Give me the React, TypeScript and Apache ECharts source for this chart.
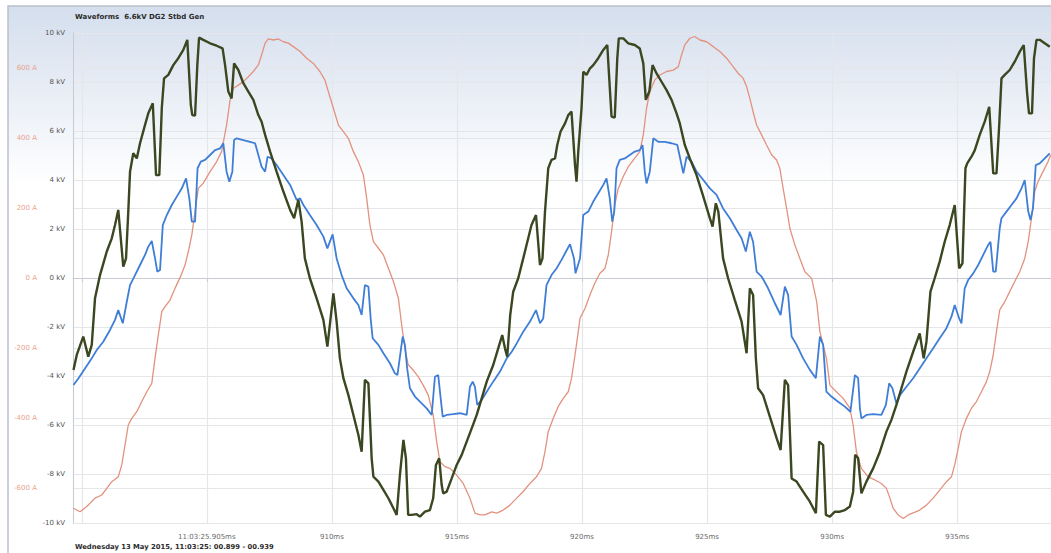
import React, { useEffect, useRef } from "react";
import * as echarts from "echarts";

const titleText = "Waveforms  6.6kV DG2 Stbd Gen";
const footerText = "Wednesday 13 May 2015, 11:03:25: 00.899 - 00.939";

// [time ms, kV]
const voltageDark: [number, number][] = [
  [899.67,-3.76],[899.80,-3.14],[900.06,-2.39],[900.26,-3.21],[900.40,-2.73],[900.53,-0.83],[900.73,0.12],[901.00,1.08],[901.20,1.62],[901.33,2.16],[901.46,2.78],[901.66,0.46],[901.77,0.80],[901.86,2.71],[901.93,4.34],[902.06,5.09],[902.20,4.88],[902.33,5.50],[902.53,6.25],[902.66,6.72],[902.84,7.13],[902.97,4.20],[903.10,4.20],[903.20,6.93],[903.29,8.15],[903.46,8.29],[903.66,8.69],[903.86,8.97],[904.06,9.31],[904.22,9.72],[904.36,7.06],[904.42,6.65],[904.53,6.63],[904.62,8.69],[904.69,9.81],[904.86,9.72],[905.13,9.58],[905.39,9.48],[905.63,9.37],[905.73,8.69],[905.86,7.61],[905.99,7.33],[906.09,8.76],[906.26,8.49],[906.46,7.95],[906.66,7.61],[906.86,7.27],[907.06,6.65],[907.19,6.38],[907.33,5.84],[907.53,5.16],[907.79,4.34],[908.06,3.53],[908.33,2.78],[908.49,2.44],[908.66,3.19],[908.79,2.30],[908.92,0.80],[909.12,-0.01],[909.39,-0.83],[909.66,-1.71],[909.82,-2.80],
  [910.06,-0.63],[910.19,-1.78],[910.32,-3.28],[910.46,-4.09],[910.66,-4.78],[910.86,-5.59],[911.06,-6.41],[911.19,-7.09],[911.32,-4.16],[911.46,-4.30],[911.59,-7.36],[911.66,-8.11],[911.86,-8.31],[912.06,-8.65],[912.26,-8.99],[912.46,-9.40],[912.59,-9.67],[912.72,-8.04],[912.86,-6.61],[912.96,-7.36],[913.05,-9.67],[913.19,-9.67],[913.39,-9.64],[913.52,-9.74],[913.72,-9.54],[913.92,-9.47],[914.05,-8.99],[914.16,-7.63],[914.29,-7.36],[914.39,-8.45],[914.45,-8.79],[914.59,-8.72],[914.79,-8.18],[914.99,-7.63],[915.19,-7.22],[915.39,-6.68],[915.59,-6.14],[915.79,-5.59],[915.99,-4.91],[916.19,-4.23],[916.45,-3.55],[916.65,-2.87],[916.81,-2.33],[916.92,-2.87],[917.01,-3.21],[917.13,-1.51],[917.25,-0.56],[917.45,-0.01],[917.65,0.80],[917.85,1.62],[917.98,2.16],[918.16,2.57],[918.32,0.53],[918.42,0.80],[918.52,2.71],[918.65,4.48],[918.78,4.82],[918.92,4.88],[919.01,5.43],[919.14,5.97],[919.32,6.31],[919.45,6.65],[919.58,6.79],[919.72,4.61],[919.78,3.93],[919.85,5.16],[919.98,6.93],
  [920.05,8.42],[920.18,8.29],[920.32,8.56],[920.45,8.69],[920.65,8.97],[920.85,9.31],[921.01,9.51],[921.12,7.61],[921.18,6.59],[921.31,6.55],[921.41,8.97],[921.47,9.78],[921.65,9.78],[921.85,9.58],[922.11,9.51],[922.31,9.37],[922.45,8.76],[922.55,7.27],[922.69,7.61],[922.82,8.69],[922.98,8.35],[923.18,8.01],[923.38,7.67],[923.58,7.27],[923.78,6.72],[923.91,6.31],[924.11,5.43],[924.31,4.88],[924.58,4.20],[924.85,3.32],[925.11,2.44],[925.22,2.10],[925.35,3.05],[925.45,2.71],[925.64,0.80],[925.84,-0.01],[926.11,-0.90],[926.38,-1.78],[926.58,-3.07],[926.71,-0.42],[926.84,-0.69],[926.95,-3.28],[927.04,-4.50],[927.24,-4.78],[927.51,-5.66],[927.78,-6.54],[927.94,-7.02],[928.11,-4.16],[928.24,-4.37],[928.38,-8.18],[928.58,-8.31],[928.84,-8.72],[929.11,-9.13],[929.35,-9.60],[929.48,-6.68],[929.64,-6.82],[929.75,-9.67],[929.91,-9.74],
  [930.11,-9.54],[930.31,-9.54],[930.51,-9.47],[930.71,-9.33],[930.84,-8.72],[930.92,-7.22],[931.04,-7.36],[931.17,-8.79],[931.37,-8.31],[931.64,-7.77],[931.91,-7.09],[932.17,-6.27],[932.37,-5.79],[932.57,-5.18],[932.77,-4.50],[932.97,-3.82],[933.24,-3.01],[933.50,-2.26],[933.66,-3.28],[933.77,-2.60],[933.93,-0.56],[934.10,-0.01],[934.30,0.67],[934.50,1.48],[934.70,2.16],[934.90,2.98],[935.08,0.39],[935.21,0.60],[935.33,4.48],[935.40,4.68],[935.57,4.95],[935.70,5.21],[935.90,5.84],[936.10,6.38],[936.28,6.99],[936.44,4.27],[936.57,4.27],[936.68,6.25],[936.77,8.15],[936.90,8.29],[937.10,8.49],[937.30,8.83],[937.50,9.24],[937.66,9.51],[937.79,7.61],[937.87,6.72],[937.99,6.72],[938.07,8.97],[938.17,9.72],[938.30,9.72],[938.50,9.58],[938.70,9.44],
];

// [time ms, kV]
const voltageBlue: [number, number][] = [
  [899.67,-4.37],[899.87,-4.09],[900.13,-3.69],[900.40,-3.28],[900.60,-2.94],[900.86,-2.60],[901.13,-2.12],[901.33,-1.71],[901.46,-1.31],[901.64,-1.85],[901.80,-0.97],[901.93,-0.29],[902.13,0.12],[902.33,0.53],[902.53,0.94],[902.66,1.28],[902.80,1.51],[902.93,0.80],[903.02,0.26],[903.13,0.33],[903.24,2.16],[903.40,2.57],[903.60,2.98],[903.80,3.32],[904.00,3.66],[904.17,4.07],[904.30,3.25],[904.40,2.30],[904.53,2.30],[904.63,4.48],[904.76,4.75],[904.93,4.82],[905.13,5.02],[905.33,5.22],[905.53,5.29],[905.66,5.50],[905.79,4.34],[905.90,3.93],[906.02,4.34],[906.09,5.63],[906.19,5.70],[906.46,5.63],[906.73,5.56],[906.93,5.50],[907.06,5.02],[907.19,4.54],[907.33,4.34],[907.43,4.95],[907.59,4.88],[907.79,4.61],[908.06,4.20],[908.33,3.80],[908.59,3.19],[908.73,3.25],[908.86,2.98],[909.12,2.57],[909.39,2.16],[909.66,1.69],[909.82,1.21],
  [910.03,1.78],[910.19,0.80],[910.39,0.12],[910.59,-0.42],[910.86,-0.83],[911.06,-1.10],[911.19,-1.51],[911.32,-0.29],[911.46,-0.35],[911.55,-1.65],[911.63,-2.46],[911.86,-2.73],[912.06,-3.07],[912.32,-3.48],[912.52,-3.89],[912.62,-3.96],[912.83,-2.39],[912.92,-2.73],[913.01,-3.69],[913.12,-4.50],[913.32,-4.84],[913.52,-5.05],[913.79,-5.32],[913.99,-5.59],[914.12,-4.03],[914.25,-3.96],[914.35,-4.91],[914.43,-5.66],[914.59,-5.59],[914.85,-5.56],[915.12,-5.52],[915.39,-5.59],[915.52,-4.44],[915.63,-4.23],[915.72,-4.44],[915.81,-5.18],[915.99,-4.98],[916.19,-4.64],[916.45,-4.23],[916.72,-3.82],[916.99,-3.28],[917.19,-3.01],[917.39,-2.67],[917.65,-2.19],[917.92,-1.78],[918.16,-1.31],[918.32,-1.85],[918.45,-1.65],[918.58,-0.29],[918.78,0.12],[918.98,0.39],[919.18,0.74],[919.36,1.08],[919.52,1.38],[919.68,0.80],[919.74,0.19],[919.92,0.80],
  [920.05,2.57],[920.25,2.71],[920.45,3.12],[920.65,3.46],[920.85,3.80],[920.98,4.07],[921.11,3.25],[921.21,2.30],[921.29,2.71],[921.38,4.48],[921.51,4.82],[921.71,4.88],[921.91,5.02],[922.11,5.16],[922.31,5.22],[922.42,5.43],[922.51,4.34],[922.58,3.86],[922.71,4.34],[922.85,5.70],[923.05,5.56],[923.31,5.56],[923.58,5.50],[923.81,5.43],[923.91,4.95],[924.05,4.27],[924.18,4.95],[924.38,4.75],[924.58,4.34],[924.85,4.00],[925.11,3.66],[925.38,3.39],[925.64,2.84],[925.91,2.44],[926.18,1.96],[926.38,1.62],[926.55,1.08],[926.71,1.89],[926.84,1.48],[926.98,0.26],[927.18,0.06],[927.44,-0.42],[927.71,-1.03],[927.94,-1.51],[928.11,-0.35],[928.24,-0.69],[928.38,-2.39],[928.58,-2.73],[928.84,-3.28],[929.11,-3.75],[929.35,-4.09],[929.51,-2.39],[929.64,-2.73],[929.77,-4.64],[929.97,-4.84],
  [930.24,-5.05],[930.51,-5.25],[930.73,-5.46],[930.91,-3.96],[931.04,-4.09],[931.11,-5.32],[931.17,-5.73],[931.37,-5.59],[931.64,-5.56],[931.97,-5.59],[932.15,-5.18],[932.28,-4.30],[932.41,-4.50],[932.57,-5.12],[932.71,-4.78],[932.97,-4.44],[933.24,-4.09],[933.50,-3.69],[933.77,-3.28],[934.04,-2.87],[934.30,-2.46],[934.57,-2.05],[934.77,-1.58],[934.90,-1.10],[935.08,-1.65],[935.17,-1.85],[935.30,-0.42],[935.44,-0.08],[935.64,0.19],[935.84,0.53],[936.04,0.94],[936.24,1.35],[936.33,1.48],[936.44,0.26],[936.54,0.26],[936.70,2.03],[936.77,2.44],[936.97,2.71],[937.17,2.98],[937.37,3.25],[937.57,3.66],[937.70,4.00],[937.84,2.71],[937.93,2.37],[938.03,2.84],[938.14,4.61],[938.30,4.68],[938.50,4.88],[938.70,5.09],
];

// [time ms, A]
const currentAmps: [number, number][] = [
  [899.67,-658],[899.93,-668],[900.20,-653],[900.53,-629],[900.80,-620],[901.00,-601],[901.20,-582],[901.46,-568],[901.60,-534],[901.73,-477],[901.86,-420],[902.00,-401],[902.20,-382],[902.40,-353],[902.60,-325],[902.80,-301],[902.93,-229],[903.06,-163],[903.20,-96],[903.33,-82],[903.53,-63],[903.73,-29],[903.93,1],[904.13,37],[904.26,75],[904.40,123],[904.53,190],[904.66,256],[904.86,271],[905.13,304],[905.39,332],[905.59,361],[905.79,437],[905.93,509],[906.06,542],[906.26,551],[906.46,561],[906.66,575],[906.86,590],[907.06,609],[907.19,637],[907.33,671],[907.46,683],[907.66,680],[907.86,683],[908.06,675],[908.26,671],[908.46,661],[908.73,647],[908.99,628],[909.26,613],[909.52,590],[909.72,566],[909.86,532],
  [910.06,485],[910.26,437],[910.46,418],[910.66,399],[910.86,361],[911.06,332],[911.26,294],[911.39,228],[911.52,152],[911.66,104],[911.86,85],[912.06,66],[912.26,28],[912.46,-10],[912.66,-58],[912.79,-134],[912.92,-201],[913.05,-248],[913.25,-263],[913.45,-282],[913.65,-306],[913.85,-334],[914.05,-391],[914.19,-468],[914.32,-525],[914.52,-539],[914.72,-544],[914.99,-563],[915.25,-587],[915.52,-629],[915.72,-672],[915.92,-677],[916.12,-677],[916.39,-668],[916.59,-672],[916.85,-663],[917.12,-649],[917.39,-629],[917.65,-610],[917.92,-587],[918.18,-568],[918.38,-544],[918.52,-496],[918.65,-439],[918.85,-401],[919.05,-367],[919.25,-344],[919.45,-325],[919.58,-287],[919.72,-220],[919.85,-153],[919.92,-115],
  [920.12,-87],[920.32,-48],[920.51,-15],[920.71,13],[920.92,28],[921.05,66],[921.18,132],[921.31,209],[921.45,256],[921.65,290],[921.85,318],[922.05,337],[922.31,361],[922.45,409],[922.58,485],[922.71,532],[922.91,566],[923.11,580],[923.38,590],[923.65,594],[923.85,604],[923.98,637],[924.11,666],[924.31,685],[924.51,690],[924.71,680],[924.98,675],[925.25,661],[925.51,647],[925.78,628],[926.04,604],[926.24,585],[926.44,571],[926.58,547],[926.71,513],[926.84,475],[926.98,437],[927.18,409],[927.38,380],[927.58,352],[927.78,337],[927.91,313],[928.04,256],[928.18,199],[928.31,142],[928.51,94],[928.71,56],[928.91,18],[929.18,-1],[929.38,-67],[929.51,-153],[929.64,-191],[929.77,-229],[929.91,-306],
  [930.17,-325],[930.44,-344],[930.71,-372],[930.84,-420],[930.97,-496],[931.17,-544],[931.44,-568],[931.71,-577],[931.97,-587],[932.17,-601],[932.31,-629],[932.44,-658],[932.64,-677],[932.84,-687],[933.04,-677],[933.31,-669],[933.50,-663],[933.77,-649],[934.04,-629],[934.30,-606],[934.57,-582],[934.77,-568],[934.90,-534],[935.04,-487],[935.17,-439],[935.37,-401],[935.57,-372],[935.77,-353],[935.97,-325],[936.17,-296],[936.30,-268],[936.44,-220],[936.57,-153],[936.70,-91],[936.90,-68],[937.10,-39],[937.30,-10],[937.50,18],[937.70,56],[937.84,104],[937.97,171],[938.10,247],[938.23,275],[938.43,304],[938.63,332],[938.74,352],
];

const FONT = '"DejaVu Sans", Verdana, sans-serif';

export default function App() {
  const ref = useRef<HTMLDivElement>(null);

  useEffect(() => {
    if (!ref.current) return;
    const chart = echarts.init(ref.current, undefined, { renderer: "svg" });
    const gridLine = { show: true, lineStyle: { color: "#e4e6ea", width: 1.2 } };

    chart.setOption({
      animation: false,
      graphic: [
        {
          type: "rect",
          z: -10,
          silent: true,
          shape: { x: 8, y: 6, width: 1100, height: 600 },
          style: {
            fill: new echarts.graphic.LinearGradient(0, 0, 0, 1, [
              { offset: 0, color: "#d4deed" },
              { offset: 0.3, color: "#ffffff" },
              { offset: 1, color: "#ffffff" },
            ]),
            stroke: "#b9c0cb",
            lineWidth: 1.5,
          },
        },
        {
          type: "text",
          x: 75,
          y: 17,
          style: {
            text: titleText,
            fontFamily: FONT,
            fontWeight: "bold",
            fontSize: 7,
            fill: "#2b2b2b",
            verticalAlign: "middle",
          },
        },
        {
          type: "text",
          x: 75,
          y: 547,
          style: {
            text: footerText,
            fontFamily: FONT,
            fontWeight: "bold",
            fontSize: 6.8,
            fill: "#2b2b2b",
            verticalAlign: "middle",
          },
        },
      ],
      grid: { left: 73, right: 0, top: 33, bottom: 30 },
      xAxis: {
        type: "value",
        min: 899.65,
        max: 938.75,
        minInterval: 5,
        maxInterval: 5,
        axisLine: { show: true, lineStyle: { color: "#c8ccd2" } },
        axisTick: { show: true, length: 4, lineStyle: { color: "#c8ccd2" } },
        splitLine: gridLine,
        axisLabel: {
          showMinLabel: false,
          showMaxLabel: false,
          margin: 10,
          fontSize: 7,
          fontFamily: FONT,
          color: "#6a6a6a",
          formatter: (v: number) => {
            const r = Math.round(v);
            if (Math.abs(v - Math.round(v / 5) * 5) > 0.01) return "";
            if (r === 900) return "";
            if (r === 905) return "11:03:25.905ms";
            return `${r}ms`;
          },
        },
      },
      yAxis: [
        {
          type: "value",
          min: -10,
          max: 10,
          interval: 2,
          position: "left",
          axisLine: { show: true, lineStyle: { color: "#c8ccd2" } },
          axisTick: { show: false },
          splitLine: gridLine,
          axisLabel: {
            margin: 8,
            fontSize: 7,
            fontFamily: FONT,
            color: "#555555",
            formatter: (v: number) => `${v} kV`,
          },
        },
        {
          type: "value",
          min: -700,
          max: 700,
          minInterval: 200,
          maxInterval: 200,
          position: "left",
          offset: 28,
          axisLine: { show: false },
          axisTick: { show: false },
          splitLine: gridLine,
          axisLabel: {
            showMinLabel: false,
            showMaxLabel: false,
            margin: 8,
            fontSize: 7,
            fontFamily: FONT,
            color: "#e9a38f",
            formatter: (v: number) => (Math.round(v) % 200 === 0 ? `${Math.round(v)} A` : ""),
          },
        },
      ],
      series: [
        {
          name: "Current",
          type: "line",
          yAxisIndex: 1,
          data: currentAmps,
          showSymbol: false,
          symbol: "none",
          lineStyle: { color: "#e2927e", width: 1.3 },
          z: 2,
        },
        {
          name: "Voltage B",
          type: "line",
          yAxisIndex: 0,
          data: voltageBlue,
          showSymbol: false,
          symbol: "none",
          lineStyle: { color: "#3f7ed6", width: 1.8 },
          z: 3,
        },
        {
          name: "Voltage A",
          type: "line",
          yAxisIndex: 0,
          data: voltageDark,
          showSymbol: false,
          symbol: "none",
          lineStyle: { color: "#3a4720", width: 2.4 },
          z: 4,
        },
      ],
    });

    return () => chart.dispose();
  }, []);

  return (
    <div
      ref={ref}
      style={{ position: "fixed", left: 0, top: 0, width: 1051, height: 553, background: "#ffffff" }}
    />
  );
}
